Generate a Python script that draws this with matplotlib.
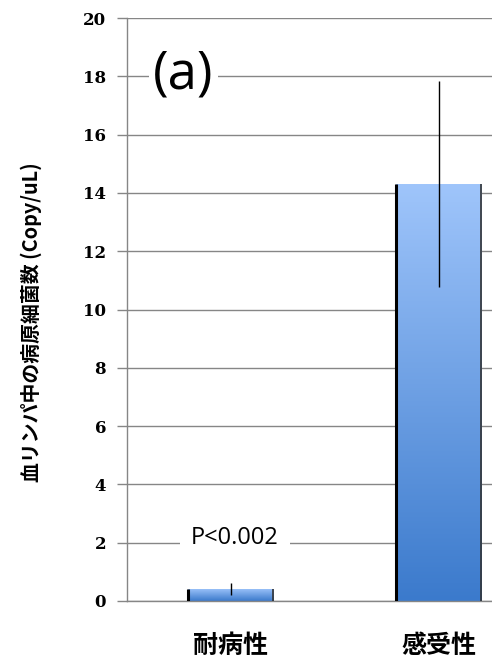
import numpy as np
import matplotlib.pyplot as plt
from matplotlib.colors import LinearSegmentedColormap

# data
categories = ["耐病性", "感受性"]
values = [0.42, 14.3]
errors = [0.21, 3.53]
yticks = [0, 2, 4, 6, 8, 10, 12, 14, 16, 18, 20]

ylabel = "血リンパ中の病原細菌数 (Copy/uL)"
panel_label = "(a)"
p_text = "P<0.002"

plt.rcParams["font.family"] = ["Noto Sans CJK JP", "DejaVu Sans"]

fig = plt.figure(figsize=(4.92, 6.6), dpi=100)
ax = fig.add_axes([0.258, 0.0894, 0.742, 0.8833])

x = np.arange(len(categories))
width = 0.41
grid_c = "#868686"

ax.set_xlim(-0.5, 1.257)
ax.set_ylim(0, 20)
ax.set_yticks(yticks)
ax.yaxis.grid(True, color=grid_c, linewidth=1.0, zorder=0)
ax.set_axisbelow(True)

# bars with vertical gradient
cmap = LinearSegmentedColormap.from_list("bluegrad", ["#3b7acc", "#9fc5fb"])
grad = np.linspace(0, 1, 256).reshape(-1, 1)
bars = ax.bar(x, values, width=width, color="none", edgecolor="none", zorder=2)
for b in bars:
    x0, y0 = b.get_x(), b.get_y()
    w, h = b.get_width(), b.get_height()
    im = ax.imshow(grad, cmap=cmap, origin="lower", aspect="auto",
                   extent=(x0, x0 + w, y0, y0 + h), zorder=2)
    im.set_clip_path(b)
    # dark left/right edges
    ax.plot([x0, x0], [y0, y0 + h], color="black", linewidth=2.2, zorder=3,
            solid_capstyle="butt")
    ax.plot([x0 + w, x0 + w], [y0, y0 + h], color="#333333", linewidth=1.2,
            zorder=3, solid_capstyle="butt")

ax.errorbar(x, values, yerr=errors, fmt="none", ecolor="black",
            elinewidth=1.0, capsize=0, zorder=4)

# restore limits after imshow
ax.set_xlim(-0.5, 1.257)
ax.set_ylim(0, 20)

for s in ["top", "right"]:
    ax.spines[s].set_visible(False)
ax.spines["left"].set_color(grid_c)
ax.spines["bottom"].set_color(grid_c)
ax.spines["left"].set_linewidth(1.0)
ax.spines["bottom"].set_linewidth(1.0)

ax.tick_params(axis="y", direction="out", length=7, width=1.0, color=grid_c,
               pad=8)
ax.set_yticklabels([str(t) for t in yticks], fontfamily="DejaVu Serif",
                   fontweight="bold", fontsize=12)
ax.tick_params(axis="x", length=0, pad=24)
ax.set_xticks(x)
ax.set_xticklabels(categories, fontfamily=["Noto Sans CJK JP"],
                   fontweight="bold", fontsize=18)

ax.set_ylabel(ylabel, fontsize=14.3, fontweight="bold")
ax.yaxis.set_label_coords(-0.233, 0.478)

ax.text(-0.23, 18.05, panel_label, fontfamily="Open Sans", fontsize=38,
        ha="center", va="center", zorder=5,
        bbox=dict(facecolor="white", edgecolor="none", pad=3))
ax.text(0.02, 2.15, p_text, fontfamily="Open Sans", fontsize=17,
        ha="center", va="center", zorder=5,
        bbox=dict(facecolor="white", edgecolor="none", pad=8))

fig.savefig("out.png", dpi=100)
